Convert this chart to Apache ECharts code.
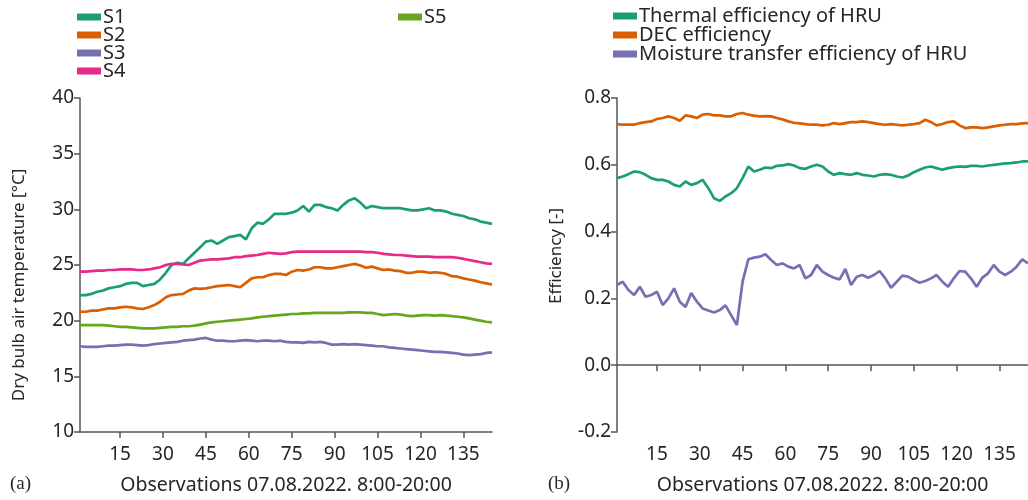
<!DOCTYPE html>
<html>
<head>
<meta charset="utf-8">
<script src="https://cdn.jsdelivr.net/npm/echarts@6/dist/echarts.min.js"></script>
<style>
html,body{margin:0;padding:0;background:#fff;}
#chart{width:1028px;height:500px;}
</style>
</head>
<body>
<div id="chart"></div>
<script>
// Observation index (every second observation, 8:00-20:00)
const obs = [1,3,5,7,9,11,13,15,17,19,21,23,25,27,29,31,33,35,37,39,41,43,45,47,49,51,53,55,57,59,61,63,65,67,69,71,73,75,77,79,81,83,85,87,89,91,93,95,97,99,101,103,105,107,109,111,113,115,117,119,121,123,125,127,129,131,133,135,137,139,141,143,145];
const xTicks = [15,30,45,60,75,90,105,120,135];

// (a) Dry bulb air temperature [°C]
const S1 = [22.3,22.3,22.4,22.6,22.7,22.9,23.0,23.1,23.3,23.4,23.4,23.1,23.2,23.3,23.7,24.3,25.0,25.2,25.1,25.6,26.1,26.6,27.1,27.2,26.9,27.2,27.5,27.6,27.7,27.3,28.3,28.8,28.7,29.1,29.6,29.6,29.6,29.7,29.9,30.3,29.8,30.4,30.4,30.2,30.1,29.9,30.4,30.8,31.0,30.6,30.1,30.3,30.2,30.1,30.1,30.1,30.1,30.0,29.9,29.9,30.0,30.1,29.9,29.9,29.8,29.6,29.5,29.4,29.2,29.1,28.9,28.8,28.7];
const S2 = [20.8,20.8,20.9,20.9,21.0,21.1,21.1,21.2,21.25,21.2,21.1,21.05,21.2,21.4,21.7,22.1,22.3,22.35,22.4,22.7,22.9,22.85,22.9,23.0,23.1,23.15,23.2,23.1,23.0,23.4,23.8,23.9,23.9,24.1,24.2,24.2,24.1,24.4,24.55,24.5,24.6,24.8,24.8,24.7,24.7,24.8,24.9,25.0,25.1,24.95,24.75,24.85,24.7,24.55,24.6,24.5,24.45,24.3,24.3,24.4,24.4,24.3,24.35,24.3,24.2,24.0,23.95,23.8,23.7,23.6,23.45,23.35,23.25];
const S3 = [17.7,17.65,17.65,17.65,17.7,17.75,17.75,17.8,17.85,17.85,17.8,17.75,17.8,17.9,17.95,18.0,18.05,18.1,18.2,18.25,18.3,18.4,18.45,18.3,18.2,18.2,18.15,18.15,18.2,18.25,18.2,18.15,18.2,18.2,18.15,18.2,18.1,18.05,18.05,18.0,18.1,18.05,18.1,18.0,17.85,17.85,17.9,17.85,17.9,17.85,17.8,17.75,17.7,17.7,17.6,17.55,17.5,17.45,17.4,17.35,17.3,17.25,17.2,17.2,17.15,17.1,17.05,16.95,16.9,16.95,17.0,17.1,17.15];
const S4 = [24.4,24.4,24.45,24.5,24.5,24.55,24.55,24.6,24.6,24.6,24.55,24.55,24.6,24.7,24.8,25.0,25.1,25.1,25.05,25.0,25.2,25.4,25.45,25.5,25.5,25.55,25.6,25.7,25.7,25.8,25.85,25.9,26.0,26.1,26.05,26.0,26.05,26.15,26.2,26.2,26.2,26.2,26.2,26.2,26.2,26.2,26.2,26.2,26.2,26.2,26.15,26.15,26.1,26.0,25.95,25.9,25.9,25.85,25.8,25.75,25.75,25.75,25.7,25.7,25.7,25.7,25.65,25.55,25.45,25.35,25.25,25.15,25.1];
const S5 = [19.6,19.6,19.6,19.6,19.6,19.55,19.5,19.45,19.45,19.4,19.35,19.3,19.3,19.3,19.35,19.4,19.45,19.45,19.5,19.5,19.55,19.65,19.75,19.85,19.9,19.95,20.0,20.05,20.1,20.15,20.2,20.3,20.35,20.4,20.45,20.5,20.55,20.6,20.6,20.65,20.65,20.7,20.7,20.7,20.7,20.7,20.7,20.75,20.75,20.75,20.7,20.7,20.6,20.5,20.55,20.6,20.55,20.45,20.4,20.45,20.5,20.5,20.45,20.5,20.45,20.4,20.35,20.3,20.2,20.1,20.0,19.9,19.85];

// (b) Efficiency [-]
const thermalHRU = [0.56,0.565,0.572,0.58,0.578,0.57,0.56,0.555,0.555,0.55,0.54,0.535,0.55,0.54,0.545,0.555,0.53,0.50,0.492,0.505,0.515,0.53,0.56,0.595,0.58,0.585,0.592,0.59,0.597,0.598,0.602,0.598,0.59,0.588,0.595,0.6,0.595,0.58,0.57,0.575,0.572,0.57,0.575,0.57,0.568,0.565,0.57,0.572,0.57,0.565,0.562,0.568,0.578,0.585,0.592,0.595,0.59,0.585,0.59,0.593,0.595,0.594,0.597,0.597,0.595,0.598,0.6,0.602,0.604,0.605,0.607,0.61,0.61];
const decEff = [0.722,0.72,0.72,0.72,0.725,0.728,0.73,0.737,0.74,0.745,0.74,0.732,0.748,0.745,0.74,0.75,0.752,0.748,0.748,0.745,0.745,0.752,0.755,0.75,0.747,0.745,0.746,0.745,0.74,0.736,0.73,0.726,0.724,0.722,0.72,0.72,0.718,0.72,0.725,0.722,0.725,0.728,0.728,0.73,0.728,0.725,0.722,0.72,0.722,0.72,0.718,0.72,0.722,0.725,0.735,0.728,0.718,0.722,0.728,0.73,0.718,0.71,0.712,0.712,0.71,0.712,0.715,0.718,0.72,0.722,0.722,0.724,0.725];
const moistureHRU = [0.24,0.25,0.225,0.21,0.235,0.205,0.21,0.22,0.18,0.2,0.23,0.19,0.174,0.216,0.19,0.17,0.164,0.158,0.165,0.179,0.15,0.12,0.25,0.317,0.322,0.325,0.332,0.315,0.3,0.305,0.295,0.29,0.3,0.26,0.27,0.3,0.28,0.27,0.262,0.257,0.288,0.24,0.265,0.27,0.262,0.27,0.282,0.26,0.232,0.25,0.268,0.265,0.255,0.247,0.252,0.26,0.27,0.25,0.235,0.26,0.282,0.28,0.26,0.235,0.262,0.275,0.3,0.28,0.27,0.28,0.295,0.317,0.305];

const FONT = '"Noto Sans", "Open Sans", sans-serif';
const AX = '#555';
const TXT = '#262626';
const C = ['#1b9e77','#d95f02','#7570b3','#e7298a','#66a61e'];

function pairs(ys){ return obs.map((x,i)=>[x, ys[i]]); }

function xAxis(gi){
  return {
    type:'value', gridIndex:gi, min:1, max:145,
    name:'Observations 07.08.2022. 8:00-20:00', nameLocation:'middle', nameGap:43,
    nameTextStyle:{fontFamily:FONT, fontSize:19.5, color:TXT},
    axisLine:{show:true, lineStyle:{color:AX, width:1.5}},
    axisTick:{show:true, length:6, customValues:xTicks, lineStyle:{color:AX, width:1.5}},
    axisLabel:{customValues:xTicks, fontFamily:FONT, fontSize:19, color:TXT, margin:13},
    splitLine:{show:false}
  };
}
function yAxis(gi, min, max, interval, name, fmt, gap, pad){
  return {
    type:'value', gridIndex:gi, min:min, max:max, interval:interval,
    name:name, nameLocation:'middle', nameGap:gap,
    nameTextStyle:{fontFamily:FONT, fontSize:17, color:TXT, padding:pad},
    axisLine:{show:true, lineStyle:{color:AX, width:1.5}},
    axisTick:{show:true, length:6, lineStyle:{color:AX, width:1.5}},
    axisLabel:{fontFamily:FONT, fontSize:19, color:TXT, margin:6, formatter:fmt},
    splitLine:{show:false}
  };
}
function line(name, data, color, gi){
  return {name:name, type:'line', xAxisIndex:gi, yAxisIndex:gi, data:pairs(data),
    showSymbol:false, symbol:'none', lineStyle:{color:color, width:2.7}, itemStyle:{color:color}, animation:false};
}
const legendBase = {orient:'vertical', icon:'rect', itemWidth:24, itemHeight:7, itemGap:-2,
  textStyle:{fontFamily:FONT, fontSize:20, color:TXT, lineHeight:18, padding:[0,0,0,-3]}, padding:0};

const chart = echarts.init(document.getElementById('chart'), null, {renderer:'canvas'});
chart.setOption({
  backgroundColor:'#fff',
  animation:false,
  legend:[
    Object.assign({}, legendBase, {left:77, top:7, data:['S1','S2','S3','S4']}),
    Object.assign({}, legendBase, {left:398, top:7, data:['S5']}),
    Object.assign({}, legendBase, {left:613, top:6, itemGap:-1, data:['Thermal efficiency of HRU','DEC efficiency','Moisture transfer efficiency of HRU']})
  ],
  grid:[
    {left:80, top:98, width:412, height:334},
    {left:617, top:98, width:411, height:334}
  ],
  xAxis:[xAxis(0), xAxis(1)],
  yAxis:[
    yAxis(0, 10, 40, 5, 'Dry bulb air temperature [°C]', v=>String(v), 52, [0,40,0,0]),
    yAxis(1, -0.2, 0.8, 0.2, 'Efficiency [-]', v=>v.toFixed(1), 52, [0,0,0,18])
  ],
  graphic:[
    {type:'text', left:10, top:475, style:{text:'(a)', font:'19px "Liberation Serif", serif', fill:TXT}},
    {type:'text', left:548, top:475, style:{text:'(b)', font:'19px "Liberation Serif", serif', fill:TXT}}
  ],
  series:[
    line('S1', S1, C[0], 0),
    line('S2', S2, C[1], 0),
    line('S3', S3, C[2], 0),
    line('S4', S4, C[3], 0),
    line('S5', S5, C[4], 0),
    line('Thermal efficiency of HRU', thermalHRU, C[0], 1),
    line('DEC efficiency', decEff, C[1], 1),
    line('Moisture transfer efficiency of HRU', moistureHRU, C[2], 1)
  ]
});
</script>
</body>
</html>
